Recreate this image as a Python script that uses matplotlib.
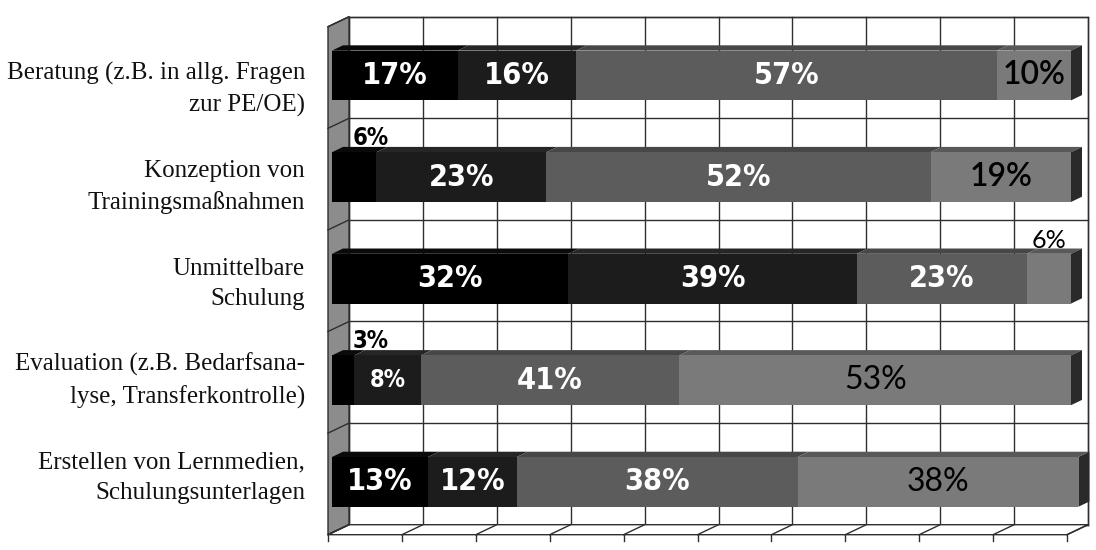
import matplotlib
matplotlib.use('Agg')
import matplotlib.pyplot as plt
from matplotlib.patches import Polygon
from matplotlib import font_manager
import numpy as np

categories = ['Beratung (z.B. in allg. Fragen\nzur PE/OE)',
              'Konzeption von\nTrainingsmaßnahmen',
              'Unmittelbare\nSchulung',
              'Evaluation (z.B. Bedarfsana-\nlyse, Transferkontrolle)',
              'Erstellen von Lernmedien,\nSchulungsunterlagen']

# bar lengths as drawn in the picture (Evaluation row is drawn 3/9/35/53)
seg1 = [17, 6, 32, 3, 13]
seg2 = [16, 23, 39, 9, 12]
seg3 = [57, 52, 23, 35, 38]
seg4 = [10, 19, 6, 53, 38]

# percentages printed on the bars
lab1 = [17, 6, 32, 3, 13]
lab2 = [16, 23, 39, 8, 12]
lab3 = [57, 52, 23, 41, 38]
lab4 = [10, 19, 6, 53, 38]

segments = [seg1, seg2, seg3, seg4]
labels = [lab1, lab2, lab3, lab4]
front_col = ['#000000', '#1c1c1c', '#5c5c5c', '#7a7a7a']
top_col = ['#0a0a0a', '#262626', '#474747', '#595959']
side_col = '#2a2a2a'
line_col = '#2e2e2e'

names = {f.name for f in font_manager.fontManager.ttflist}


def narrow_font():
    # a condensed bold face if there is one, else Roboto bold
    for f in font_manager.fontManager.ttflist:
        cond = ('Narrow' in f.name or 'Condensed' in f.name
                or f.stretch in ('condensed', 'semi-condensed', 'extra-condensed'))
        if cond and str(f.weight) in ('bold', '700'):
            return {'fname': f.fname}, 1.0
    fam = 'Roboto' if 'Roboto' in names else 'DejaVu Sans'
    return {'family': fam, 'weight': 'bold'}, (1.0 if fam == 'Roboto' else 0.8)


nprops, nscale = narrow_font()
serif = 'Liberation Serif' if 'Liberation Serif' in names else 'DejaVu Serif'
calib = 'Lato' if 'Lato' in names else 'DejaVu Sans'


def nfont(size):
    return font_manager.FontProperties(size=size * nscale, **nprops)


W, H = 1096, 550
fig = plt.figure(figsize=(W / 100, H / 100), dpi=100)

# layout: pixel position of x=0 / y=0 on the bar front plane and scales
x0px, xscale = 332, 7.39
y0px, yscale = 75.5, 101.6
xlim = (-1.5, 103)
ylim = (4.6, -0.7)
left_px = x0px + xlim[0] * xscale
width_px = (xlim[1] - xlim[0]) * xscale
top_px = y0px + ylim[1] * yscale
height_px = (ylim[0] - ylim[1]) * yscale
ax = fig.add_axes([left_px / W, 1 - (top_px + height_px) / H, width_px / W, height_px / H])
ax.set_xlim(xlim)
ax.set_ylim(ylim)
ax.axis('off')


def shift(dx, dy):
    # pixel offset (right, up) -> data offset
    return dx / xscale, -dy / yscale


bx, by = shift(17, 8)     # back wall
fx, fy = shift(-4, -2)    # front edge of floor / side wall
dx, dy = shift(11, 5.3)   # bar depth

n = len(categories)
ypos = np.arange(n)
ytop, ybot = -0.5, n - 0.5
xs = np.arange(0, 101, 10)
bounds = np.arange(ytop, ybot + 0.01, 1)

# back wall
ax.add_patch(Polygon([(bx, ytop + by), (100 + bx, ytop + by), (100 + bx, ybot + by), (bx, ybot + by)],
                     closed=True, fc='white', ec=line_col, lw=1, zorder=1, clip_on=False))
for gx in xs:
    ax.plot([gx + bx, gx + bx], [ytop + by, ybot + by], color=line_col, lw=1, zorder=1.1, clip_on=False)
for gy in bounds:
    ax.plot([bx, 100 + bx], [gy + by, gy + by], color=line_col, lw=1, zorder=1.1, clip_on=False)

# left side wall
ax.add_patch(Polygon([(fx, ytop + fy), (fx, ybot + fy), (bx, ybot + by), (bx, ytop + by)],
                     closed=True, fc='#8c8c8c', ec=line_col, lw=1, zorder=1.2, clip_on=False))
for gy in bounds:
    ax.plot([fx, bx], [gy + fy, gy + by], color=line_col, lw=1, zorder=1.3, clip_on=False)

# floor
ax.add_patch(Polygon([(fx, ybot + fy), (100 + fx, ybot + fy), (100 + bx, ybot + by), (bx, ybot + by)],
                     closed=True, fc='white', ec=line_col, lw=1, zorder=1.2, clip_on=False))
tx, ty = shift(0, -6)
for gx in xs:
    ax.plot([gx + fx, gx + bx], [ybot + fy, ybot + by], color=line_col, lw=1, zorder=1.3, clip_on=False)
    ax.plot([gx + fx, gx + fx], [ybot + fy, ybot + fy + ty], color=line_col, lw=1, zorder=1.3, clip_on=False)

# bars
bh = 0.49
lx, ly = shift(21, 7)
for i in range(n):
    left = 0
    yt = ypos[i] - bh / 2
    for s in range(4):
        w = segments[s][i]
        ax.add_patch(Polygon([(left, yt), (left + w, yt), (left + w + dx, yt + dy), (left + dx, yt + dy)],
                             closed=True, fc=top_col[s], ec='none', zorder=3, clip_on=False))
        ax.barh(ypos[i], w, left=left, height=bh, color=front_col[s], edgecolor='none', zorder=4)
        txt = '%d%%' % labels[s][i]
        cx = left + w / 2
        if s < 3:
            if w < 7:
                ax.text(lx, yt + ly, txt, ha='left', va='baseline', color='black',
                        fontproperties=nfont(17), zorder=6)
            else:
                fs = 17 if w < 10 else 22
                ax.text(cx, ypos[i], txt, ha='center', va='center', color='white',
                        fontproperties=nfont(fs), zorder=6)
        else:
            if w < 7:
                ax.text(cx, yt + shift(0, 6)[1], txt, ha='center', va='baseline', color='black',
                        family=calib, fontsize=18, zorder=6)
            else:
                wt = 'semibold' if w < 25 else 'normal'
                ax.text(cx, ypos[i], txt, ha='center', va='center', color='black',
                        family=calib, weight=wt, fontsize=23, zorder=6)
        left += w
    ax.add_patch(Polygon([(left, yt), (left, yt + bh), (left + dx, yt + bh + dy), (left + dx, yt + dy)],
                         closed=True, fc=side_col, ec='none', zorder=3, clip_on=False))

# category labels
label_x = shift(-27, 0)[0]
for i, cat in enumerate(categories):
    ax.text(label_x, 0.14 + 0.955 * i, cat, ha='right', va='center', family=serif,
            fontsize=18, linespacing=1.5, color='#111111')

fig.savefig('out.png', dpi=100)
